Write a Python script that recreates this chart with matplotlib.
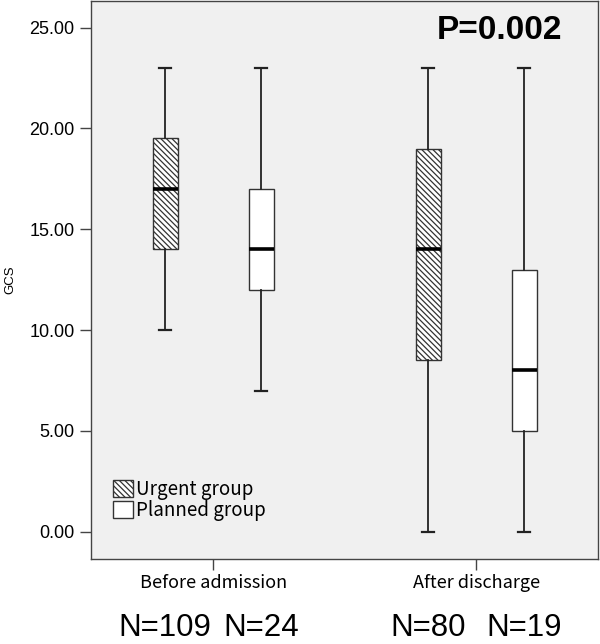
import matplotlib.pyplot as plt
from matplotlib.patches import Patch

# GCS box plot summaries
periods = ["Before admission", "After discharge"]
groups = ["Urgent group", "Planned group"]
n_counts = [[109, 24], [80, 19]]
whislo = [[10, 7], [0, 0]]
q1 = [[14, 12], [8.5, 5]]
med = [[17, 14], [14, 8]]
q3 = [[19.5, 17], [19, 13]]
whishi = [[23, 23], [23, 23]]
yticks = [0, 5, 10, 15, 20, 25]
p_text = "P=0.002"

plt.rcParams["hatch.linewidth"] = 0.9
plt.rcParams["hatch.color"] = "#333333"

fig = plt.figure(figsize=(6, 6.44), dpi=100)
ax = fig.add_axes([0.152, 0.132, 0.845, 0.866])
ax.set_facecolor("#f0f0f0")

offset = 0.1825
width = 0.095
hatches = ["\\\\\\\\\\\\", None]
edge = "#333333"
jp = ["Noto Sans CJK JP", "DejaVu Sans"]

for i, period in enumerate(periods):
    for j in range(len(groups)):
        st = [dict(med=med[i][j], q1=q1[i][j], q3=q3[i][j],
                   whislo=whislo[i][j], whishi=whishi[i][j], fliers=[])]
        pos = i + 1 + (offset if j else -offset)
        ax.bxp(st, positions=[pos], widths=width, patch_artist=True,
               showfliers=False,
               boxprops=dict(facecolor="white", edgecolor=edge, linewidth=1.0,
                             hatch=hatches[j]),
               whiskerprops=dict(color="#222222", linewidth=1.3),
               capprops=dict(color="#222222", linewidth=1.6),
               medianprops=dict(color="black", linewidth=2.6))
        ax.text(pos, -0.124, "N=%d" % n_counts[i][j], transform=ax.get_xaxis_transform(),
                ha="center", va="center", fontsize=22.5, family="Liberation Sans")

ax.set_xlim(0.536, 2.464)
ax.set_ylim(-1.35, 26.3)
ax.set_xticks([1, 2])
ax.set_xticklabels(periods, family=jp, fontsize=13)
ax.set_yticks(yticks)
ax.set_yticklabels(["%.2f" % v for v in yticks], family="Liberation Sans", fontsize=13)
ax.tick_params(axis="both", direction="out", length=8, width=1, color="#444444")
ax.tick_params(axis="x", pad=3)
ax.tick_params(axis="y", pad=4)
ax.set_ylabel("GCS", fontsize=9.5, family="Liberation Sans")
ax.yaxis.set_label_coords(-0.148, 0.5)

for s in ax.spines.values():
    s.set_color("#444444")
    s.set_linewidth(1.0)

ax.text(0.805, 0.947, p_text, transform=ax.transAxes, ha="center", va="center",
        fontsize=24, fontweight="bold", family="Liberation Sans")

handles = [Patch(facecolor="white", edgecolor=edge, hatch=hatches[0]),
           Patch(facecolor="white", edgecolor=edge)]
ax.legend(handles, groups, loc="lower left", bbox_to_anchor=(0.043, 0.068),
          frameon=False, prop=dict(family=jp, size=13.5),
          handlelength=1.07, handleheight=1.07, handletextpad=0.15, labelspacing=0.0,
          borderaxespad=0.0, borderpad=0.0)

fig.savefig("out.png", dpi=100)
